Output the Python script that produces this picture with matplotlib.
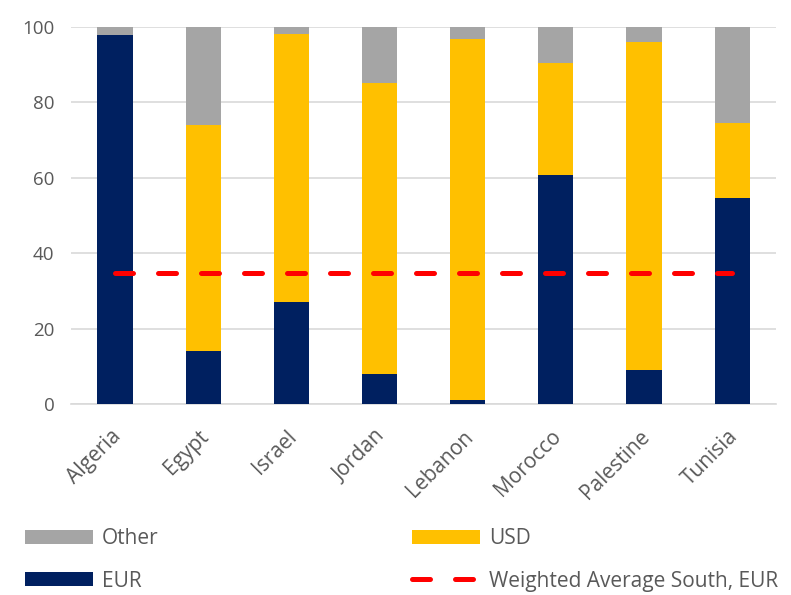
import matplotlib.pyplot as plt
import matplotlib.transforms as mtransforms
import numpy as np

plt.rcParams['font.family'] = ['Open Sans', 'DejaVu Sans']

countries = ['Algeria', 'Egypt', 'Israel', 'Jordan', 'Lebanon', 'Morocco', 'Palestine', 'Tunisia']
eur = [98.0, 14.0, 27.0, 8.0, 1.0, 60.7, 9.0, 54.6]
usd = [0.0, 60.0, 71.1, 77.1, 95.9, 29.7, 86.9, 19.9]
other = [2.0, 26.0, 1.9, 14.9, 3.1, 9.6, 4.1, 25.5]
weighted_avg_eur = 34.7

# couleurs
c_eur = '#002060'
c_usd = '#FFC000'
c_other = '#A5A5A5'
c_text = '#595959'

fig = plt.figure(figsize=(7.91, 5.95), dpi=100)
ax = fig.add_axes([0.0898, 0.321, 0.8915, 0.6336])

x = np.arange(len(countries))
eur = np.array(eur)
usd = np.array(usd)
other = np.array(other)

b_eur = ax.bar(x, eur, width=0.4, color=c_eur, zorder=3)
b_usd = ax.bar(x, usd, width=0.4, bottom=eur, color=c_usd, zorder=3)
b_oth = ax.bar(x, other, width=0.4, bottom=eur + usd, color=c_other, zorder=3)

line, = ax.plot(x, [weighted_avg_eur] * len(x), color='#FF0000', lw=3.6,
                linestyle=(0, (3.6, 5.0)), dash_capstyle='round', zorder=4)

ax.set_xlim(-0.5, len(countries) - 0.5)
ax.set_ylim(0, 100)
ax.set_yticks(range(0, 101, 20))
ax.yaxis.grid(True, color='#D9D9D9', lw=1.2, zorder=0)
ax.set_axisbelow(True)

for s in ['top', 'right', 'left']:
    ax.spines[s].set_visible(False)
ax.spines['bottom'].set_color('#D9D9D9')
ax.spines['bottom'].set_linewidth(1.2)

ax.tick_params(axis='both', length=0, colors=c_text)
ax.tick_params(axis='y', pad=12, labelsize=13.5)
ax.tick_params(axis='x', pad=16, labelsize=15)
ax.set_xticks(x)
ax.set_xticklabels(countries, rotation=45, ha='right', rotation_mode='anchor')
shift = mtransforms.ScaledTranslation(-0.05, 0, fig.dpi_scale_trans)
for lab in ax.get_xticklabels():
    lab.set_transform(lab.get_transform() + shift)

fig.legend([b_oth, b_eur, b_usd, line],
           ['Other', 'EUR', 'USD', 'Weighted Average South, EUR'],
           ncol=2, loc='upper left', bbox_to_anchor=(0.031, 0.1126),
           frameon=False, fontsize=15, labelcolor=c_text,
           handlelength=3.27, handleheight=0.67, handletextpad=0.43,
           labelspacing=1.04, columnspacing=12.17, borderaxespad=0, borderpad=0)

plt.savefig('out.png', dpi=100)
